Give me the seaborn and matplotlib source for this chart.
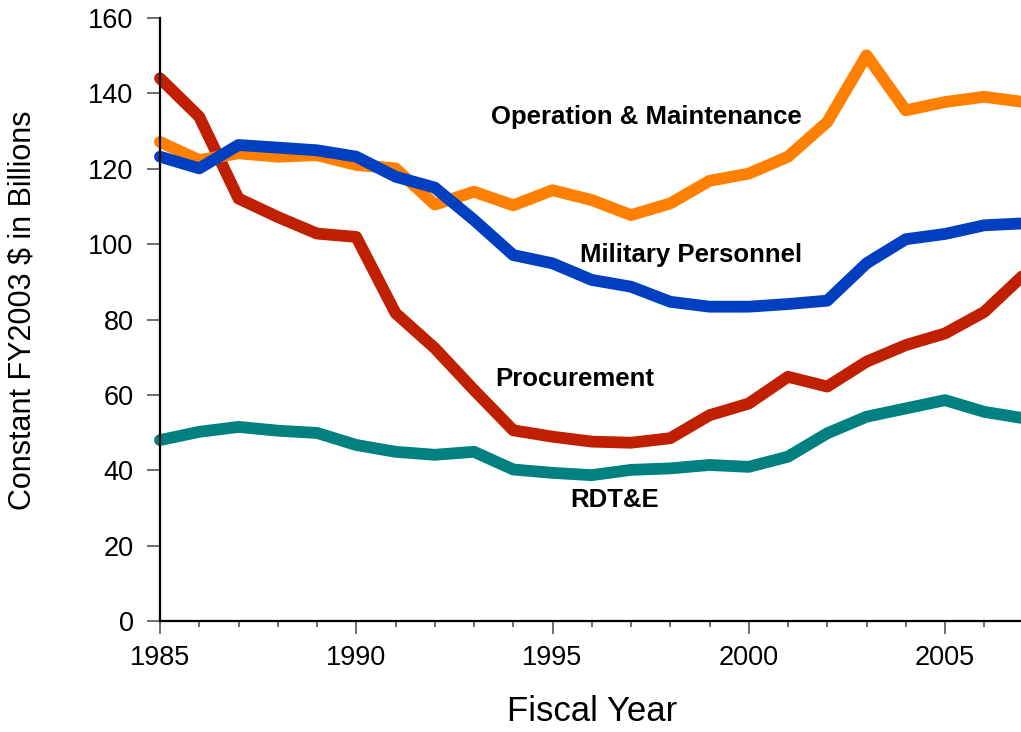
import numpy as np
import pandas as pd
import matplotlib
matplotlib.use('Agg')
import matplotlib.pyplot as plt
from matplotlib.ticker import MultipleLocator
import seaborn as sns

sns.set_style('ticks')
plt.rcParams['font.family'] = ['Liberation Sans', 'DejaVu Sans']

years = list(range(1985, 2008))

procurement = [144.0, 133.8, 112.1, 107.2, 102.8, 101.9, 81.7, 72.4, 61.3, 50.6,
               48.9, 47.6, 47.3, 48.5, 54.6, 57.7, 64.8, 62.2, 68.8, 73.2,
               76.3, 82.0, 91.8]
operation_maint = [127.1, 122.3, 124.1, 123.2, 123.6, 121.0, 120.1, 110.5, 113.9, 110.3,
                   114.3, 111.7, 107.7, 110.8, 116.8, 118.7, 123.2, 132.4, 150.1, 135.5,
                   137.7, 139.1, 137.7]
military_pers = [123.2, 120.1, 126.3, 125.6, 124.9, 123.2, 117.9, 115.0, 106.4, 97.1,
                 94.9, 90.5, 88.7, 84.7, 83.4, 83.4, 84.1, 85.0, 94.9, 101.3,
                 102.7, 105.0, 105.5]
rdte = [48.0, 50.2, 51.5, 50.5, 49.9, 46.7, 44.9, 44.1, 44.9, 40.2,
        39.3, 38.7, 40.1, 40.5, 41.4, 40.9, 43.6, 49.8, 54.2, 56.4,
        58.6, 55.5, 53.8]

series_names = ['Procurement', 'Operation & Maintenance', 'Military Personnel', 'RDT&E']
series_colors = ['#C02000', '#FF8000', '#0040C0', '#008080']

df = pd.DataFrame({'year': years,
                   'Procurement': procurement,
                   'Operation & Maintenance': operation_maint,
                   'Military Personnel': military_pers,
                   'RDT&E': rdte})
plt_df = df.melt(id_vars='year', var_name='category', value_name='value')

# label positions (data coords)
label_x = [1995.57, 1997.4, 1998.54, 1996.58]
label_y = [64.2, 133.7, 97.1, 32.1]

fig = plt.figure(figsize=(10.21, 7.32), dpi=100)
ax = fig.add_axes([160 / 1021, 1 - 621 / 732, 863.5 / 1021, 603 / 732])

for name, color in zip(series_names, series_colors):
    sns.lineplot(data=plt_df[plt_df['category'] == name], x='year', y='value',
                 color=color, linewidth=8.5, ax=ax, legend=False,
                 solid_capstyle='round', solid_joinstyle='round', clip_on=False)

for name, lx, ly in zip(series_names, label_x, label_y):
    ax.text(lx, ly, name, ha='center', va='center', fontsize=18.5,
            fontweight='bold', color='black')

ax.set_xlim(1985, 2007)
ax.set_ylim(0, 160)
ax.xaxis.set_major_locator(MultipleLocator(5))
ax.xaxis.set_minor_locator(MultipleLocator(1))
ax.yaxis.set_major_locator(MultipleLocator(20))

ax.tick_params(axis='both', which='major', direction='out', labelsize=19.5,
               color='#555555', width=1.2, pad=9.5, labelcolor='black')
ax.tick_params(axis='y', which='major', length=9.5)
ax.tick_params(axis='x', which='major', length=9.2, pad=8)
ax.tick_params(axis='x', which='minor', direction='out', length=4.5,
               color='#555555', width=1.2)

for side in ['top', 'right']:
    ax.spines[side].set_visible(False)
for side in ['left', 'bottom']:
    ax.spines[side].set_color('black')
    ax.spines[side].set_linewidth(1.6)

ax.set_xlabel('Fiscal Year', fontsize=25, color='black')
ax.xaxis.set_label_coords(0.501, -0.122)
ax.set_ylabel('Constant FY2003 $ in Billions', fontsize=22, color='black')
ax.yaxis.set_label_coords(-0.142, 0.516)

fig.savefig('out.png', dpi=100)
